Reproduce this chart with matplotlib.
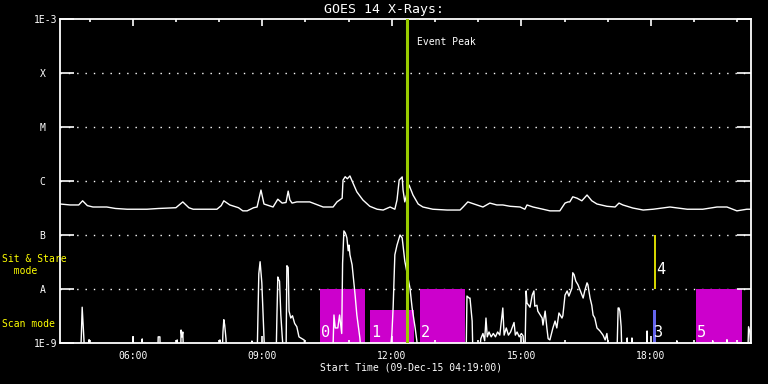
import matplotlib
matplotlib.use('Agg')
import matplotlib.pyplot as plt
from matplotlib.ticker import NullLocator

# time axis in hours of day, start 04:19, 16 h span
t_start = 4 + 19 / 60
t_end = t_start + 16

# long channel (upper curve), W/m^2
long_hours = [4.32, 4.55, 4.75, 4.84, 4.95, 5.08, 5.40, 5.60, 5.87, 6.33,
              6.60, 7.00, 7.16, 7.30, 7.40, 7.95, 8.05, 8.11, 8.25, 8.45,
              8.55, 8.65, 8.80, 8.88, 8.97, 9.04, 9.25, 9.36, 9.46, 9.55,
              9.60, 9.64, 9.69, 9.80, 10.10, 10.41, 10.64, 10.73, 10.85, 10.87,
              10.92, 10.97, 11.03, 11.10, 11.19, 11.33, 11.49, 11.66, 11.80, 11.96,
              12.07, 12.12, 12.17, 12.24, 12.26, 12.30, 12.40, 12.49, 12.61, 12.72,
              12.95, 13.28, 13.58, 13.65, 13.76, 13.97, 14.11, 14.27, 14.43, 14.57,
              14.74, 14.97, 15.08, 15.13, 15.27, 15.50, 15.66, 15.89, 16.01, 16.08,
              16.12, 16.19, 16.29, 16.40, 16.52, 16.63, 16.75, 16.98, 17.17, 17.26,
              17.35, 17.58, 17.82, 18.05, 18.44, 18.84, 19.20, 19.53, 19.76, 19.99,
              20.22, 20.32]
long_flux = [3.75e-7, 3.6e-7, 3.6e-7, 4.3e-7, 3.5e-7, 3.3e-7, 3.3e-7, 3.1e-7, 3.0e-7, 3.0e-7,
             3.1e-7, 3.2e-7, 4.1e-7, 3.2e-7, 3.0e-7, 3.0e-7, 3.5e-7, 4.3e-7, 3.6e-7, 3.2e-7,
             2.8e-7, 2.8e-7, 3.2e-7, 3.3e-7, 6.8e-7, 3.75e-7, 3.3e-7, 4.6e-7, 3.9e-7, 4.0e-7,
             6.5e-7, 4.45e-7, 3.9e-7, 4.1e-7, 4.1e-7, 3.3e-7, 3.3e-7, 4.1e-7, 4.8e-7, 1.04e-6,
             1.2e-6, 1.1e-6, 1.24e-6, 9.2e-7, 6.3e-7, 4.45e-7, 3.4e-7, 3.0e-7, 2.9e-7, 3.3e-7,
             3.0e-7, 4.45e-7, 1.04e-6, 1.19e-6, 6.8e-7, 4.1e-7, 8.4e-7, 5.5e-7, 3.75e-7, 3.3e-7,
             3.0e-7, 2.9e-7, 2.9e-7, 3.3e-7, 4.1e-7, 3.6e-7, 3.3e-7, 3.9e-7, 3.6e-7, 3.6e-7,
             3.4e-7, 3.3e-7, 3.0e-7, 3.6e-7, 3.3e-7, 3.0e-7, 2.8e-7, 2.8e-7, 3.9e-7, 4.1e-7,
             4.1e-7, 5.1e-7, 4.8e-7, 4.3e-7, 5.5e-7, 4.3e-7, 3.75e-7, 3.4e-7, 3.3e-7, 3.9e-7,
             3.6e-7, 3.16e-7, 2.9e-7, 3.0e-7, 3.3e-7, 3.0e-7, 3.0e-7, 3.3e-7, 3.3e-7, 2.8e-7,
             3.0e-7, 3.0e-7]

# short channel (lower curve), W/m^2 (5e-10 = below the axis floor)
short_hours = [4.32, 4.79, 4.81, 4.83, 4.85, 4.87, 4.89, 4.98, 4.99, 5.00,
               6.00, 6.01, 6.02, 6.21, 6.22, 6.23, 6.58, 6.59, 6.63, 6.64,
               7.02, 7.03, 7.04, 7.11, 7.12, 7.14, 7.16, 7.18, 8.01, 8.02,
               8.03, 8.07, 8.09, 8.11, 8.13, 8.16, 8.18, 8.75, 8.76, 8.77,
               8.88, 8.90, 8.92, 8.95, 8.97, 8.99, 9.02, 9.04, 9.06, 9.32,
               9.34, 9.36, 9.38, 9.40, 9.43, 9.46, 9.50, 9.55, 9.57, 9.60,
               9.62, 9.66, 9.70, 9.75, 9.80, 9.85, 9.92, 9.97, 10.02, 10.63,
               10.66, 10.69, 10.75, 10.79, 10.84, 10.86, 10.89, 10.92, 10.94, 10.96,
               10.99, 11.01, 11.03, 11.08, 11.15, 11.19, 11.26, 11.30, 11.94, 12.00,
               12.03, 12.07, 12.12, 12.19, 12.24, 12.30, 12.42, 12.47, 12.54, 12.58,
               12.62, 13.72, 13.74, 13.79, 13.81, 13.86, 13.88, 14.02, 14.06, 14.11,
               14.15, 14.18, 14.21, 14.25, 14.30, 14.35, 14.40, 14.45, 14.50, 14.57,
               14.60, 14.65, 14.70, 14.75, 14.83, 14.86, 14.90, 14.95, 15.00, 15.04,
               15.08, 15.11, 15.13, 15.20, 15.25, 15.29, 15.31, 15.36, 15.38, 15.48,
               15.50, 15.55, 15.59, 15.62, 15.66, 15.73, 15.78, 15.82, 15.87, 15.94,
               15.96, 16.01, 16.06, 16.10, 16.17, 16.19, 16.22, 16.26, 16.31, 16.36,
               16.43, 16.47, 16.52, 16.54, 16.59, 16.63, 16.66, 16.70, 16.75, 16.82,
               16.89, 16.94, 16.98, 17.05, 17.21, 17.24, 17.26, 17.28, 17.31, 17.33,
               17.44, 17.45, 17.47, 17.55, 17.56, 17.57, 17.90, 17.91, 17.92, 18.59,
               18.60, 18.61, 19.42, 19.43, 19.44, 19.75, 19.76, 19.77, 20.24, 20.26,
               20.29, 20.32]
short_flux = [5e-10, 5e-10, 1.3e-9, 4.6e-9, 2.3e-9, 1.2e-9, 5e-10, 5e-10, 1.15e-9, 5e-10,
              5e-10, 1.3e-9, 5e-10, 5e-10, 1.19e-9, 5e-10, 5e-10, 1.3e-9, 1.3e-9, 5e-10,
              5e-10, 1.14e-9, 5e-10, 5e-10, 1.74e-9, 1.3e-9, 1.6e-9, 5e-10, 5e-10, 1.14e-9,
              5e-10, 5e-10, 1.6e-9, 2.7e-9, 2.15e-9, 1.2e-9, 5e-10, 5e-10, 1.09e-9, 5e-10,
              5e-10, 3.3e-9, 1.9e-8, 3.2e-8, 2.0e-8, 1.3e-8, 3.2e-9, 1.2e-9, 5e-10, 5e-10,
              3.3e-9, 1.67e-8, 1.5e-8, 1.4e-8, 3.3e-9, 1.4e-9, 5e-10, 5e-10, 2.7e-8, 2.5e-8,
              3.9e-9, 2.9e-9, 3.2e-9, 2.3e-9, 2.0e-9, 1.3e-9, 1.2e-9, 1.14e-9, 5e-10, 5e-10,
              3.3e-9, 1.9e-9, 1.9e-9, 3.3e-9, 1.5e-9, 3.0e-8, 1.19e-7, 1.1e-7, 1.0e-7, 8.8e-8,
              5.1e-8, 6.5e-8, 4.3e-8, 2.8e-8, 7.7e-9, 3.3e-9, 1.24e-9, 5e-10, 5e-10, 1.4e-9,
              4.45e-9, 4.3e-8, 6.5e-8, 1.0e-7, 8.8e-8, 3.3e-8, 1.04e-8, 4.45e-9, 1.9e-9, 1.09e-9,
              5e-10, 5e-10, 7.4e-9, 6.8e-9, 6.8e-9, 2.55e-9, 5e-10, 5e-10, 1.2e-9, 1.5e-9,
              1.1e-9, 2.9e-9, 1.3e-9, 1.6e-9, 1.3e-9, 1.5e-9, 1.3e-9, 1.6e-9, 1.4e-9, 4.45e-9,
              1.4e-9, 1.9e-9, 1.4e-9, 1.6e-9, 2.4e-9, 1.4e-9, 1.6e-9, 1.3e-9, 1.5e-9, 1.35e-9,
              5e-10, 9.2e-9, 5.5e-9, 4.6e-9, 7.7e-9, 9.2e-9, 4.8e-9, 5.0e-9, 3.9e-9, 2.9e-9,
              2.15e-9, 3.9e-9, 1.9e-9, 1.2e-9, 1.14e-9, 1.9e-9, 2.55e-9, 1.9e-9, 3.6e-9, 2.9e-9,
              3.2e-9, 7.7e-9, 9.2e-9, 7.4e-9, 1.04e-8, 2.0e-8, 1.85e-8, 1.4e-8, 1.2e-8, 9.5e-9,
              6.8e-9, 9.5e-9, 1.3e-8, 1.2e-8, 6.8e-9, 5.0e-9, 3.3e-9, 2.9e-9, 1.9e-9, 1.67e-9,
              1.4e-9, 1.14e-9, 1.5e-9, 5e-10, 5e-10, 4.45e-9, 4.45e-9, 3.9e-9, 2.0e-9, 5e-10,
              5e-10, 1.24e-9, 5e-10, 5e-10, 1.24e-9, 5e-10, 5e-10, 1.67e-9, 5e-10, 5e-10,
              1.1e-9, 5e-10, 5e-10, 1.1e-9, 5e-10, 5e-10, 1.15e-9, 5e-10, 5e-10, 2.0e-9,
              1.6e-9, 5e-10]

# observation blocks
block_labels = ['0', '1', '2', '3', '5']
block_start = [10.34, 11.49, 12.65, 18.05, 19.04]
block_end = [11.38, 12.51, 13.69, 18.12, 20.11]
block_top = [1e-8, 4.1e-9, 1e-8, 4.1e-9, 1e-8]
block_colors = ['#cc00cc', '#cc00cc', '#cc00cc', '#6666ee', '#cc00cc']

# sit & stare marker (block 4)
stare_time = 18.10
stare_low, stare_high = 1e-8, 1e-7

event_peak = 12.35

class_levels = [1e-9, 1e-8, 1e-7, 1e-6, 1e-5, 1e-4, 1e-3]
class_labels = ['1E-9', 'A  ', 'B  ', 'C  ', 'M  ', 'X  ', '1E-3']

hour_ticks = [6, 9, 12, 15, 18]
hour_labels = ['06:00', '09:00', '12:00', '15:00', '18:00']

plt.rcParams['font.family'] = 'DejaVu Sans Mono'

fig = plt.figure(figsize=(7.68, 3.84), dpi=100, facecolor='black')
ax = fig.add_axes([60 / 768, 41 / 384, 691 / 768, 324 / 384])
ax.set_facecolor('black')
ax.set_yscale('log')
ax.set_xlim(t_start, t_end)
ax.set_ylim(1e-9, 1e-3)

for lev in class_levels[1:-1]:
    ax.axhline(lev, color='white', lw=1, ls=(0, (1, 5)), zorder=1)

widths = [e - s for s, e in zip(block_start, block_end)]
heights = [t - 1e-10 for t in block_top]
ax.bar(block_start, heights, width=widths, bottom=1e-10, align='edge',
       color=block_colors, zorder=1.5)
for s, lab in zip(block_start, block_labels):
    ax.text(s + 0.03, 1.15e-9, lab, color='white', fontsize=11,
            ha='left', va='bottom', zorder=4)

ax.vlines(stare_time, stare_low, stare_high, color='#ffff00', lw=1.2, zorder=3)
ax.text(stare_time + 0.01, 1.65e-8, '4', color='white', fontsize=11,
        ha='left', va='bottom', zorder=4)

ax.plot(long_hours, long_flux, color='white', lw=1, zorder=2)
ax.plot(short_hours, short_flux, color='white', lw=1, zorder=2)

ax.axvline(event_peak, color='#99cc00', lw=2.2, zorder=3)
ax.text(event_peak + 0.23, 4.6e-4, 'Event Peak', color='white', fontsize=7,
        ha='left', va='top')

ax.set_yticks(class_levels)
ax.set_yticklabels(class_labels)
ax.yaxis.set_minor_locator(NullLocator())
ax.tick_params(axis='y', which='major', direction='in', length=10, width=1.2,
               color='white', labelcolor='white', labelsize=7, left=True,
               right=True, pad=2)

ax.set_xticks(hour_ticks)
ax.set_xticklabels(hour_labels)
ax.set_xticks(range(5, 21), minor=True)
ax.tick_params(axis='x', which='major', direction='in', length=5, width=1.2,
               color='white', labelcolor='white', labelsize=7, top=True,
               bottom=True, pad=6)
ax.tick_params(axis='x', which='minor', direction='in', length=2.2, width=1.2,
               color='white', top=True, bottom=True)

for sp in ax.spines.values():
    sp.set_color('white')
    sp.set_linewidth(1.3)

fig.text(0.5, 1 - 10 / 384, 'GOES 14 X-Rays:', color='white', fontsize=9.5,
         ha='center', va='center')
fig.text(411 / 768, 1 - 368 / 384, 'Start Time (09-Dec-15 04:19:00)',
         color='white', fontsize=7, ha='center', va='center')
fig.text(2 / 768, 1 - 254 / 384, 'Sit & Stare\n  mode', color='#ffff00',
         fontsize=7, ha='left', va='top', linespacing=1.2)
fig.text(2 / 768, 1 - 324 / 384, 'Scan mode', color='#ffff00', fontsize=7,
         ha='left', va='center')

fig.savefig('out.png', dpi=100, facecolor='black')
